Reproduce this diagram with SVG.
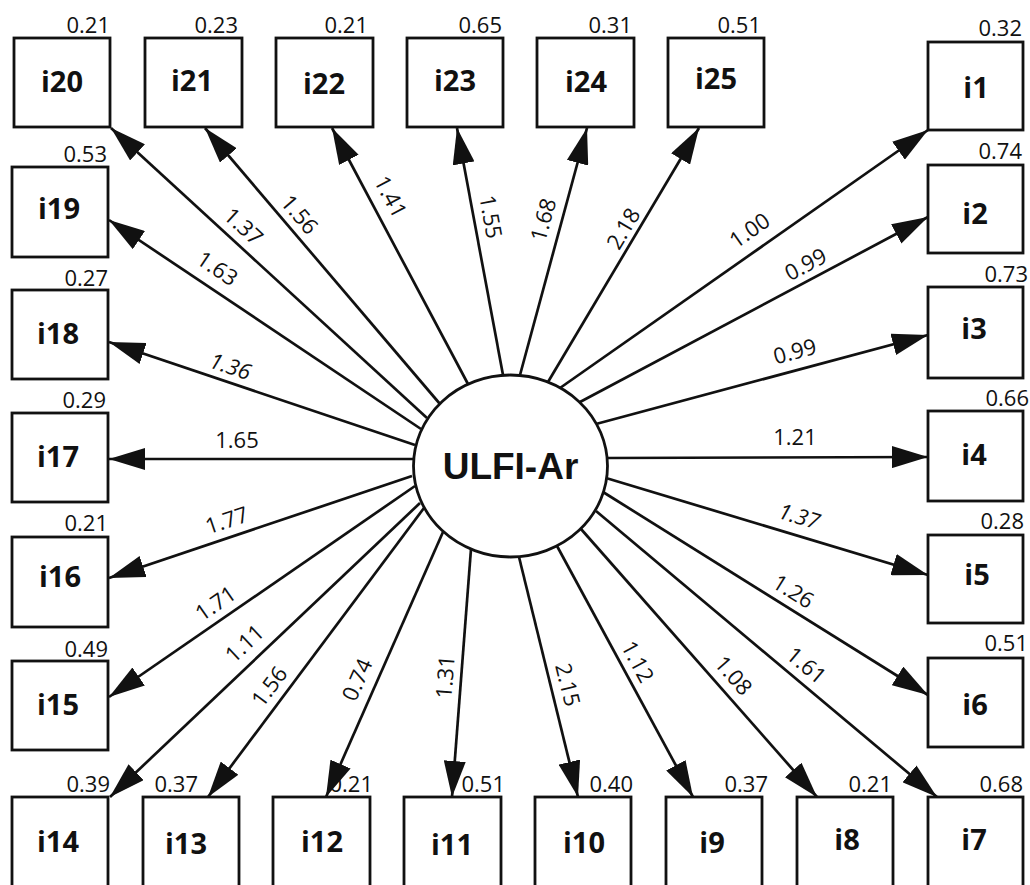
<svg xmlns="http://www.w3.org/2000/svg" width="1030" height="885" viewBox="0 0 1030 885">
<style>
.box{fill:#fff;stroke:#111;stroke-width:2.8}
.lbl{font-family:"Open Sans","Liberation Sans",sans-serif;font-weight:bold;font-size:29px;fill:#111;text-anchor:middle}
.var{font-family:"Open Sans","Liberation Sans",sans-serif;font-size:22px;fill:#111;text-anchor:end}
.coef{font-family:"Open Sans","Liberation Sans",sans-serif;font-size:22px;fill:#111;text-anchor:middle}
.it{font-style:italic}
.ln{stroke:#111;stroke-width:2.7;fill:none;marker-end:url(#ah)}
.cir{fill:#fff;stroke:#111;stroke-width:2.8}
.main{font-family:"Liberation Sans",Arial,sans-serif;font-weight:bold;font-size:37px;fill:#111;text-anchor:middle}
</style>
<defs>
<marker id="ah" markerUnits="userSpaceOnUse" markerWidth="36" markerHeight="22" refX="36" refY="11" orient="auto">
<path d="M0,0 L36,11 L0,22 Z" fill="#111"/>
</marker>
</defs>
<rect width="1030" height="885" fill="#fff"/>
<g id="connectors">
<line class="ln" x1="560" y1="388" x2="928" y2="130"/>
<line class="ln" x1="580" y1="402" x2="928" y2="217"/>
<line class="ln" x1="596" y1="424" x2="928" y2="335"/>
<line class="ln" x1="607" y1="458" x2="928" y2="457"/>
<line class="ln" x1="606" y1="478" x2="928" y2="575"/>
<line class="ln" x1="603" y1="492" x2="928" y2="695"/>
<line class="ln" x1="596" y1="511" x2="937" y2="797"/>
<line class="ln" x1="581" y1="529" x2="817" y2="797"/>
<line class="ln" x1="557" y1="546" x2="693" y2="797"/>
<line class="ln" x1="519" y1="557" x2="578" y2="797"/>
<line class="ln" x1="471" y1="549" x2="452" y2="797"/>
<line class="ln" x1="443" y1="532" x2="326" y2="797"/>
<line class="ln" x1="424" y1="508" x2="208" y2="797"/>
<line class="ln" x1="420" y1="503" x2="110" y2="797"/>
<line class="ln" x1="415" y1="486" x2="109" y2="697"/>
<line class="ln" x1="412" y1="476" x2="109" y2="578"/>
<line class="ln" x1="413" y1="459" x2="109" y2="459"/>
<line class="ln" x1="415" y1="445" x2="109" y2="342"/>
<line class="ln" x1="421" y1="429" x2="109" y2="220"/>
<line class="ln" x1="427" y1="418" x2="111" y2="128"/>
<line class="ln" x1="440" y1="404" x2="205" y2="128"/>
<line class="ln" x1="468" y1="384" x2="332" y2="128"/>
<line class="ln" x1="503" y1="375" x2="457" y2="128"/>
<line class="ln" x1="520" y1="375" x2="587" y2="128"/>
<line class="ln" x1="548" y1="382" x2="699" y2="128"/>
<g id="coefs">
<text class="coef" transform="translate(750,231) rotate(-35)" y="7">1.00</text>
<text class="coef" transform="translate(806,265) rotate(-28)" y="7">0.99</text>
<text class="coef" transform="translate(795,352) rotate(-15)" y="7">0.99</text>
<text class="coef" transform="translate(795,438)" y="7">1.21</text>
<text class="coef it" transform="translate(799,517) rotate(16.8)" y="7">1.37</text>
<text class="coef" transform="translate(793,592) rotate(32)" y="7">1.26</text>
<text class="coef" transform="translate(806,666) rotate(40)" y="7">1.61</text>
<text class="coef" transform="translate(733,676) rotate(48.6)" y="7">1.08</text>
<text class="coef" transform="translate(637,662) rotate(61.5)" y="7">1.12</text>
<text class="coef" transform="translate(567,685) rotate(76.2)" y="7">2.15</text>
<text class="coef" transform="translate(446,677) rotate(-85.6)" y="7">1.31</text>
<text class="coef" transform="translate(358,680) rotate(-66.2)" y="7">0.74</text>
<text class="coef" transform="translate(270,687) rotate(-53.2)" y="7">1.56</text>
<text class="coef" transform="translate(245,644) rotate(-43.5)" y="7">1.11</text>
<text class="coef" transform="translate(216,604) rotate(-34.6)" y="7">1.71</text>
<text class="coef" transform="translate(227,521) rotate(-18.6)" y="7">1.77</text>
<text class="coef" transform="translate(237,441)" y="7">1.65</text>
<text class="coef it" transform="translate(230,367) rotate(18.6)" y="7">1.36</text>
<text class="coef" transform="translate(217,269) rotate(33.8)" y="7">1.63</text>
<text class="coef" transform="translate(243,227) rotate(42.5)" y="7">1.37</text>
<text class="coef" transform="translate(299,215) rotate(49.6)" y="7">1.56</text>
<text class="coef" transform="translate(390,197) rotate(62)" y="7">1.41</text>
<text class="coef" transform="translate(490,217) rotate(79.5)" y="7">1.55</text>
<text class="coef" transform="translate(544,220) rotate(-74.8)" y="7">1.68</text>
<text class="coef" transform="translate(624,229) rotate(-59.3)" y="7">2.18</text>
</g>
</g>
<g id="ULFI-Ar">
<ellipse class="cir" cx="510.5" cy="466" rx="97" ry="91"/>
<text class="main" x="510.5" y="479">ULFI-Ar</text>
</g>
<g id="i1"><rect class="box" x="928" y="42" width="95" height="88"/><text class="lbl" x="976" y="98">i1</text><text class="var" x="1022" y="36">0.32</text></g>
<g id="i2"><rect class="box" x="928" y="165" width="95" height="88"/><text class="lbl" x="975" y="224">i2</text><text class="var" x="1022" y="159">0.74</text></g>
<g id="i3"><rect class="box" x="928" y="287" width="95" height="91"/><text class="lbl" x="974" y="339">i3</text><text class="var" x="1028" y="282">0.73</text></g>
<g id="i4"><rect class="box" x="928" y="411" width="95" height="90"/><text class="lbl" x="974" y="465">i4</text><text class="var" x="1029" y="406">0.66</text></g>
<g id="i5"><rect class="box" x="928" y="535" width="95" height="88"/><text class="lbl" x="977" y="585">i5</text><text class="var" x="1024" y="529">0.28</text></g>
<g id="i6"><rect class="box" x="928" y="658" width="95" height="89"/><text class="lbl" x="975" y="715">i6</text><text class="var" x="1028" y="651">0.51</text></g>
<g id="i7"><rect class="box" x="928" y="797" width="95" height="95"/><text class="lbl" x="974" y="850">i7</text><text class="var" x="1023" y="792">0.68</text></g>
<g id="i8"><rect class="box" x="797" y="797" width="96" height="95"/><text class="lbl" x="847" y="850">i8</text><text class="var" x="892" y="792">0.21</text></g>
<g id="i9"><rect class="box" x="666" y="797" width="96" height="95"/><text class="lbl" x="712" y="853">i9</text><text class="var" x="768" y="792">0.37</text></g>
<g id="i10"><rect class="box" x="535" y="797" width="96" height="95"/><text class="lbl" x="584" y="853">i10</text><text class="var" x="633" y="792">0.40</text></g>
<g id="i11"><rect class="box" x="404" y="797" width="97" height="95"/><text class="lbl" x="452" y="855">i11</text><text class="var" x="505" y="792">0.51</text></g>
<g id="i12"><rect class="box" x="273" y="797" width="97" height="95"/><text class="lbl" x="322" y="852">i12</text><text class="var" x="373" y="792">0.21</text></g>
<g id="i13"><rect class="box" x="143" y="797" width="96" height="95"/><text class="lbl" x="186" y="854">i13</text><text class="var" x="198" y="792">0.37</text></g>
<g id="i14"><rect class="box" x="12" y="797" width="96" height="95"/><text class="lbl" x="58" y="852">i14</text><text class="var" x="110" y="792">0.39</text></g>
<g id="i15"><rect class="box" x="12" y="661" width="96" height="89"/><text class="lbl" x="58" y="715">i15</text><text class="var" x="108" y="657">0.49</text></g>
<g id="i16"><rect class="box" x="12" y="537" width="96" height="90"/><text class="lbl" x="60" y="587">i16</text><text class="var" x="108" y="531">0.21</text></g>
<g id="i17"><rect class="box" x="12" y="413" width="96" height="89"/><text class="lbl" x="58" y="467">i17</text><text class="var" x="106" y="408">0.29</text></g>
<g id="i18"><rect class="box" x="12" y="290" width="96" height="89"/><text class="lbl" x="58" y="344">i18</text><text class="var" x="108" y="286">0.27</text></g>
<g id="i19"><rect class="box" x="12" y="167" width="96" height="90"/><text class="lbl" x="59" y="219">i19</text><text class="var" x="107" y="162">0.53</text></g>
<g id="i20"><rect class="box" x="14" y="38" width="96" height="89"/><text class="lbl" x="62" y="92">i20</text><text class="var" x="110" y="33">0.21</text></g>
<g id="i21"><rect class="box" x="145" y="38" width="97" height="89"/><text class="lbl" x="192" y="91">i21</text><text class="var" x="238" y="33">0.23</text></g>
<g id="i22"><rect class="box" x="276" y="38" width="97" height="89"/><text class="lbl" x="324" y="94">i22</text><text class="var" x="368" y="33">0.21</text></g>
<g id="i23"><rect class="box" x="407" y="38" width="96" height="89"/><text class="lbl" x="455" y="91">i23</text><text class="var" x="502" y="33">0.65</text></g>
<g id="i24"><rect class="box" x="537" y="38" width="97" height="89"/><text class="lbl" x="586" y="92">i24</text><text class="var" x="632" y="33">0.31</text></g>
<g id="i25"><rect class="box" x="668" y="38" width="96" height="89"/><text class="lbl" x="716" y="89">i25</text><text class="var" x="761" y="33">0.51</text></g>
</svg>
